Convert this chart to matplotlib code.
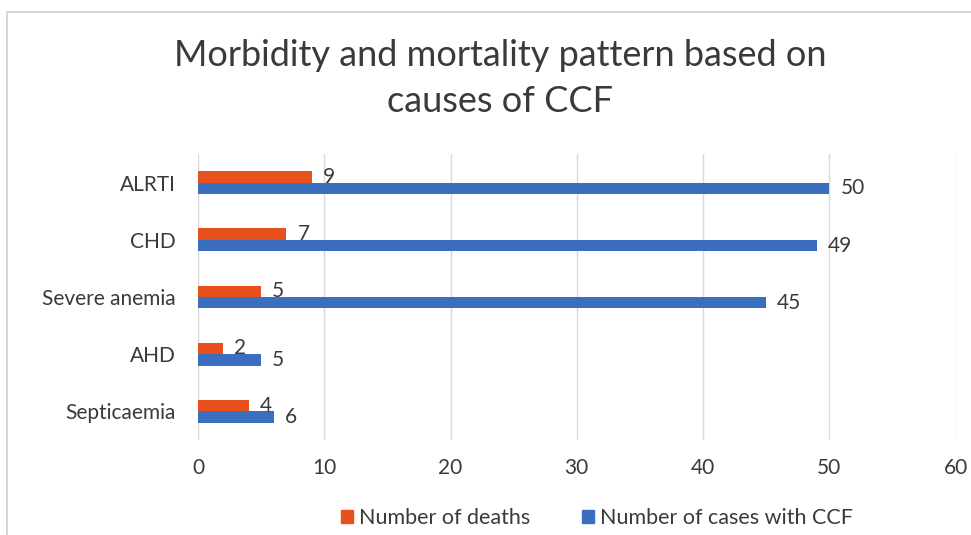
import numpy as np
import matplotlib
matplotlib.use("Agg")
import matplotlib.pyplot as plt
from matplotlib.patches import Rectangle, Patch

plt.rcParams["font.family"] = ["Lato", "DejaVu Sans"]

# ── data ──────────────────────────────────────────────────────────────────────
causes = ["ALRTI", "CHD", "Severe anemia", "AHD", "Septicaemia"]
deaths = [9, 7, 5, 2, 4]
cases_ccf = [50, 49, 45, 5, 6]

C_DEATH = "#E8501C"
C_CASES = "#3A6FBF"
TXT = "#3A3A3A"

W, H = 971, 535
fig = plt.figure(figsize=(W / 100, H / 100), dpi=100)
ax = fig.add_axes([198 / W, 1 - 440 / H, (955.5 - 198) / W, (440 - 154) / H])

y = np.arange(len(causes))
bh = 0.2
ax.barh(y - bh / 2, deaths, height=bh, color=C_DEATH, zorder=3)
ax.barh(y + bh / 2, cases_ccf, height=bh, color=C_CASES, zorder=3)

for yi, d, c in zip(y, deaths, cases_ccf):
    ax.annotate(str(d), (d, yi - bh / 2), xytext=(8, 0), textcoords="offset points",
                va="center", ha="left", fontsize=15, color=TXT, zorder=4)
    ax.annotate(str(c), (c, yi + bh / 2), xytext=(8, 0), textcoords="offset points",
                va="center", ha="left", fontsize=15, color=TXT, zorder=4)

ax.set_xlim(0, 60)
ax.set_ylim(len(causes) - 0.5, -0.5)
ax.set_xticks(range(0, 61, 10))
ax.set_yticks(y)
ax.set_yticklabels(causes)
ax.tick_params(axis="both", length=0, labelsize=15, colors=TXT)
ax.tick_params(axis="x", pad=13)
ax.tick_params(axis="y", pad=16)
ax.grid(axis="x", color="#D9D9D9", lw=1.0, zorder=0)
for s in ax.spines.values():
    s.set_visible(False)

# title
fig.text(500 / W, 1 - 55 / H, "Morbidity and mortality pattern based on",
         ha="center", va="center", fontsize=26, color=TXT)
fig.text(500 / W, 1 - 101 / H, "causes of CCF",
         ha="center", va="center", fontsize=26, color=TXT)

# legend
handles = [Patch(color=C_DEATH, label="Number of deaths"),
           Patch(color=C_CASES, label="Number of cases with CCF")]
fig.legend(handles=handles, loc="center", bbox_to_anchor=(597 / W, 1 - 518 / H),
           ncol=2, frameon=False, fontsize=15.5, handlelength=0.55, handleheight=0.55,
           handletextpad=0.3, columnspacing=2.4, labelcolor=TXT)

# chart border
fig.patches.append(Rectangle((7 / W, -0.1), 1.2, 1 - 12 / H + 0.1,
                             transform=fig.transFigure, fill=False,
                             ec="#D0D0D0", lw=1.2))

fig.savefig("out.png", dpi=100)
